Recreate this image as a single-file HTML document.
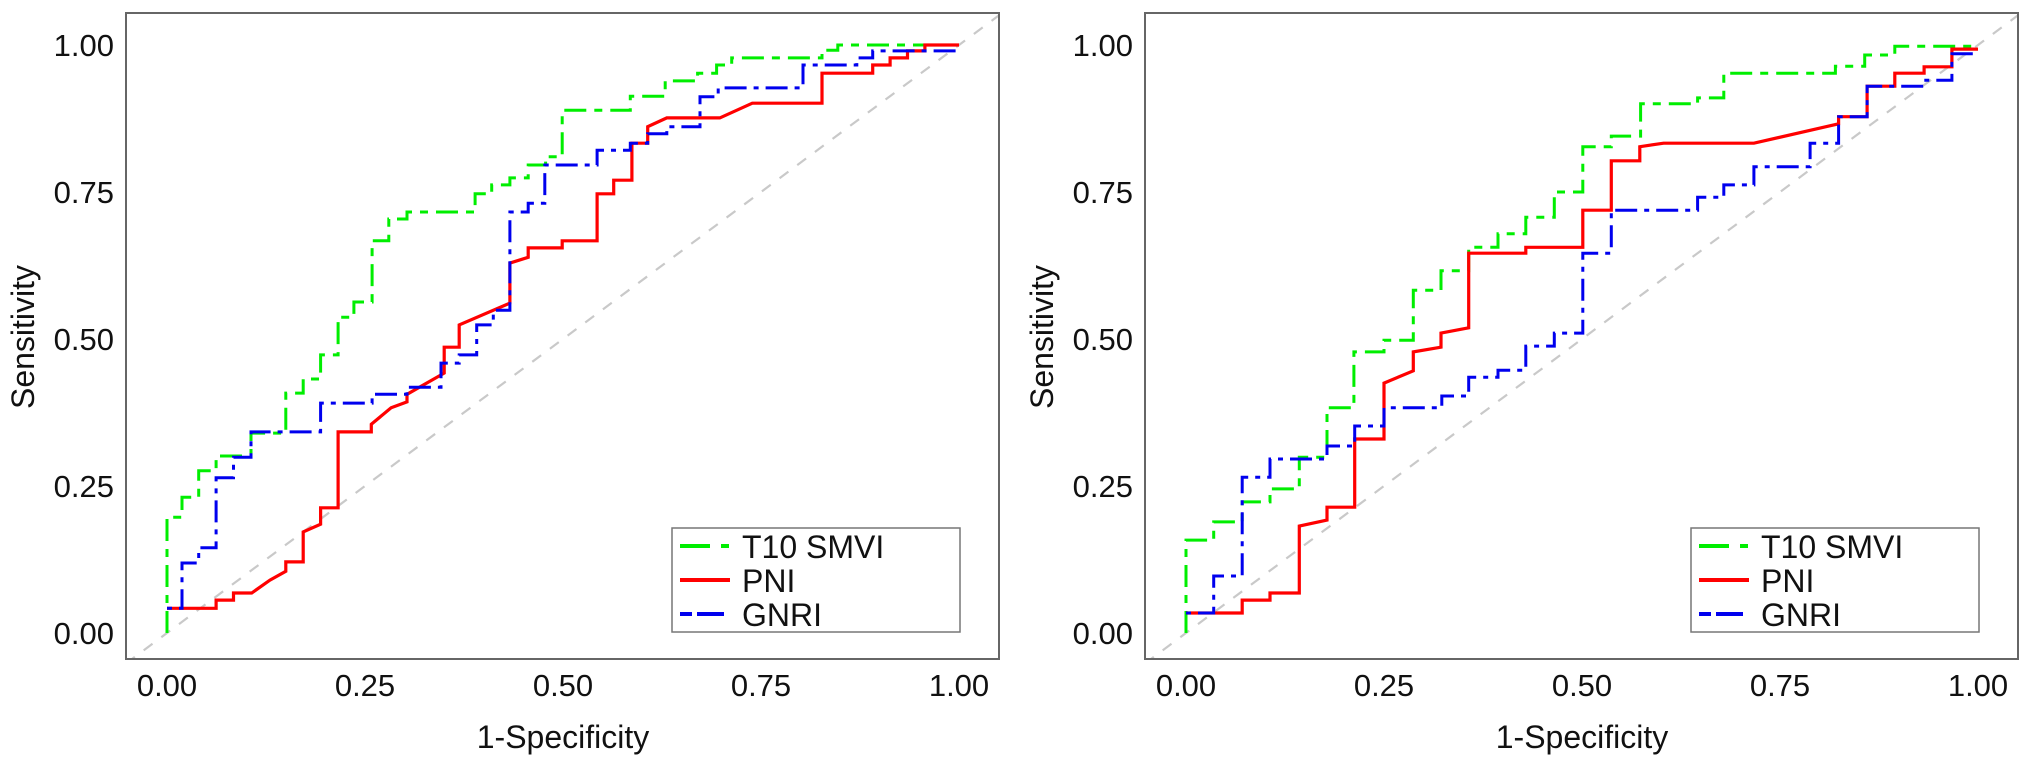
<!DOCTYPE html>
<html><head><meta charset="utf-8">
<style>
html,body{margin:0;padding:0;background:#fff;}
svg{display:block;font-family:"Liberation Sans",Arial,sans-serif;}
</style></head>
<body>
<svg id="chart" width="2032" height="766" viewBox="0 0 2032 766" xmlns="http://www.w3.org/2000/svg"></svg>
<script>
// ---- data ----
const xTicks = [0, 0.25, 0.5, 0.75, 1];
const yTicks = [0, 0.25, 0.5, 0.75, 1];
const tickLabels = ["0.00", "0.25", "0.50", "0.75", "1.00"];
const seriesNames = ["T10 SMVI", "PNI", "GNRI"];

// Left panel
const leftGreenFpr = [0,0,.019,.019,.040,.040,.062,.062,.106,.106,.150,.150,.172,.172,.194,.194,.216,.216,.236,.236,.259,.259,.280,.280,.303,.303,.389,.389,.410,.410,.433,.433,.456,.456,.478,.478,.499,.499,.585,.585,.629,.629,.670,.670,.694,.694,.713,.713,.827,.827,.847,.847,1];
const leftGreenTpr = [0,.197,.197,.231,.231,.276,.276,.301,.301,.340,.340,.408,.408,.432,.432,.473,.473,.537,.537,.563,.563,.667,.667,.704,.704,.716,.716,.747,.747,.762,.762,.774,.774,.796,.796,.810,.810,.889,.889,.913,.913,.939,.939,.952,.952,.966,.966,.978,.978,.991,.991,1,1];
const leftRedFpr = [0,.062,.062,.084,.084,.107,.130,.150,.150,.172,.172,.194,.194,.216,.216,.258,.258,.283,.303,.303,.350,.350,.369,.369,.433,.433,.456,.456,.499,.499,.543,.543,.564,.564,.587,.587,.607,.607,.631,.698,.739,.827,.827,.891,.891,.913,.913,.935,.935,.957,.957,1];
const leftRedTpr = [.042,.042,.056,.056,.068,.068,.090,.105,.121,.121,.172,.185,.213,.213,.342,.342,.355,.383,.393,.406,.442,.486,.486,.524,.561,.629,.639,.655,.655,.667,.667,.747,.747,.770,.770,.833,.833,.861,.876,.876,.901,.901,.952,.952,.966,.966,.978,.978,.990,.990,1,1];
const leftBlueFpr = [0,.019,.019,.040,.040,.062,.062,.084,.084,.106,.106,.194,.194,.259,.259,.303,.303,.346,.346,.369,.369,.391,.391,.412,.412,.433,.433,.456,.456,.477,.477,.543,.543,.585,.585,.607,.607,.631,.631,.673,.673,.696,.696,.803,.803,.871,.871,.891,.891,1];
const leftBlueTpr = [.042,.042,.119,.119,.145,.145,.264,.264,.299,.299,.342,.342,.391,.391,.406,.406,.418,.418,.459,.459,.473,.473,.524,.524,.549,.549,.716,.716,.731,.731,.796,.796,.821,.821,.833,.833,.849,.849,.861,.861,.912,.912,.927,.927,.966,.966,.978,.978,.990,.990];

// Right panel
const rightGreenFpr = [0,0,.035,.035,.071,.071,.106,.106,.143,.143,.178,.178,.212,.212,.25,.25,.287,.287,.322,.322,.357,.357,.394,.394,.429,.429,.465,.465,.501,.501,.537,.537,.574,.574,.646,.646,.679,.679,.82,.82,.857,.857,.895,.895,1];
const rightGreenTpr = [0,.158,.158,.189,.189,.223,.223,.245,.245,.299,.299,.383,.383,.478,.478,.498,.498,.583,.583,.616,.616,.656,.656,.679,.679,.707,.707,.750,.750,.827,.827,.845,.845,.900,.900,.910,.910,.952,.952,.964,.964,.983,.983,.998,.998];
const rightRedFpr = [0,.071,.071,.106,.106,.143,.143,.178,.178,.213,.213,.25,.25,.287,.287,.322,.322,.357,.357,.429,.429,.501,.501,.537,.537,.573,.573,.603,.717,.824,.824,.86,.86,.895,.895,.932,.932,.967,.967,1];
const rightRedTpr = [.034,.034,.056,.056,.068,.068,.182,.192,.214,.214,.330,.330,.425,.446,.478,.486,.510,.519,.646,.646,.656,.656,.719,.719,.803,.803,.827,.833,.833,.866,.878,.878,.930,.930,.952,.952,.963,.963,.993,.993];
const rightBlueFpr = [0,.035,.035,.071,.071,.106,.106,.178,.178,.213,.213,.25,.25,.323,.323,.357,.357,.394,.394,.429,.429,.465,.465,.501,.501,.537,.537,.646,.646,.679,.679,.717,.717,.788,.788,.824,.824,.86,.86,.932,.932,.967,.967,1];
const rightBlueTpr = [.034,.034,.097,.097,.265,.265,.296,.296,.318,.318,.352,.352,.383,.383,.403,.403,.435,.435,.447,.447,.488,.488,.510,.510,.646,.646,.719,.719,.741,.741,.762,.762,.793,.793,.833,.833,.878,.878,.930,.930,.940,.940,.985,.985];

// ---- drawing ----
const NS = "http://www.w3.org/2000/svg";
const svg = document.getElementById("chart");
function mk(tag, attrs, parent){
  const e = document.createElementNS(NS, tag);
  for (const k in attrs) e.setAttribute(k, attrs[k]);
  (parent || svg).appendChild(e);
  return e;
}
const styles = [
  {color:"#00ee00", dash:"22 8 8 8", width:3},
  {color:"#ff0000", dash:"none", width:3.2},
  {color:"#0000ee", dash:"5 7 22 7", width:3}
];

function drawPanel(offset, series, key){
  const boxL = 126 + offset, boxR = 999 + offset, boxT = 13, boxB = 659;
  const x0 = 167 + offset, x1 = 959 + offset, y0 = 633, y1 = 45;
  const xs = v => x0 + v * (x1 - x0);
  const ys = v => y0 - v * (y0 - y1);
  const g = mk("g", {});
  
  

  const clipId = "clip-" + key;
  const cp = mk("clipPath", {id: clipId}, g);
  mk("rect", {x: boxL, y: boxT, width: boxR - boxL, height: boxB - boxT}, cp);

  // diagonal reference line
  const dx0 = (boxL - x0) / (x1 - x0), dx1 = (boxR - x0) / (x1 - x0);
  const diag = mk("line", {x1: xs(dx0), y1: ys(dx0), x2: xs(dx1), y2: ys(dx1), stroke:"#c9c9c9", "stroke-width":2.2, "stroke-dasharray":"11 11", "clip-path":"url(#"+clipId+")"}, g);
  
  

  // curves
  const names = ["t10-smvi-curve", "pni-curve", "gnri-curve"];
  series.forEach((s, i) => {
    const pts = s[0].map((f, j) => xs(f).toFixed(1) + "," + ys(s[1][j]).toFixed(1)).join(" ");
    const st = styles[i];
    const pl = mk("polyline", {points: pts, fill:"none", stroke: st.color, "stroke-width": st.width, "stroke-dasharray": st.dash, "stroke-linejoin":"miter", "clip-path":"url(#"+clipId+")"}, g);
    
    
  });

  // box
  const box = mk("rect", {x: boxL, y: boxT, width: boxR - boxL, height: boxB - boxT, fill:"none", stroke:"#666", "stroke-width":2}, g);
  
  

  // ticks
  xTicks.forEach((v, i) => {
    const t = mk("text", {x: xs(v), y: 696, "font-size":31, "text-anchor":"middle", fill:"#111"}, g);
    t.textContent = tickLabels[i];
    
    
  });
  yTicks.forEach((v, i) => {
    const t = mk("text", {x: boxL - 12, y: ys(v) + 11, "font-size":31, "text-anchor":"end", fill:"#111"}, g);
    t.textContent = tickLabels[i];
    
    
  });

  // axis titles
  const xt = mk("text", {x: (x0 + x1) / 2, y: 748, "font-size":32, "text-anchor":"middle", fill:"#111"}, g);
  xt.textContent = "1-Specificity";
  
  
  const yt = mk("text", {x: 0, y: 0, "font-size":32, "text-anchor":"middle", fill:"#111", transform:"translate(" + (34 + offset) + ",337) rotate(-90)"}, g);
  yt.textContent = "Sensitivity";
  
  

  // legend
  const lg = mk("g", {}, g);
  
  
  mk("rect", {x: 672 + offset, y: 528, width: 288, height: 104, fill:"#fff", stroke:"#777", "stroke-width":1.5}, lg);
  const legDash = ["30 11 8 100", "none", "12 5 27 100"];
  seriesNames.forEach((n, i) => {
    const yy = 546 + i * 34;
    const ln = mk("line", {x1: 680 + offset, y1: yy, x2: 730 + offset, y2: yy, stroke: styles[i].color, "stroke-width":4, "stroke-dasharray": legDash[i]}, lg);
    
    
    const t = mk("text", {x: 742 + offset, y: yy + 12, "font-size":32, fill:"#111"}, lg);
    t.textContent = n;
    
    
  });
}

drawPanel(0, [[leftGreenFpr, leftGreenTpr], [leftRedFpr, leftRedTpr], [leftBlueFpr, leftBlueTpr]], "left");
drawPanel(1019, [[rightGreenFpr, rightGreenTpr], [rightRedFpr, rightRedTpr], [rightBlueFpr, rightBlueTpr]], "right");
</script>
</body></html>
